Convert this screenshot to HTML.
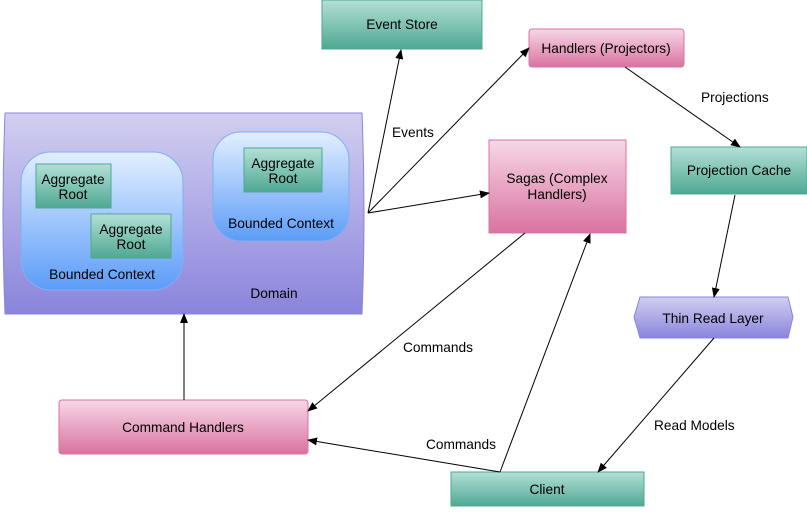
<!DOCTYPE html><html><head><style>body{margin:0;background:#fff}text{font-family:"Liberation Sans",sans-serif;font-size:13.7px;fill:#000}</style></head><body>
<svg width="807" height="507" xmlns="http://www.w3.org/2000/svg">
<defs>
<linearGradient id="g" x1="0" y1="0" x2="0" y2="1"><stop offset="0" stop-color="#b3e0d6"/><stop offset="1" stop-color="#4fa893"/></linearGradient>
<linearGradient id="p" x1="0" y1="0" x2="0" y2="1"><stop offset="0" stop-color="#f7d7e8"/><stop offset="1" stop-color="#d9739f"/></linearGradient>
<linearGradient id="v" x1="0" y1="0" x2="0" y2="1"><stop offset="0" stop-color="#d2cff0"/><stop offset="1" stop-color="#8a84dc"/></linearGradient>
<linearGradient id="b" x1="0" y1="0" x2="0" y2="1"><stop offset="0" stop-color="#e2efff"/><stop offset="1" stop-color="#5c9cf8"/></linearGradient>
<marker id="a" markerWidth="10" markerHeight="8" refX="9" refY="4" orient="auto" markerUnits="userSpaceOnUse"><path d="M0,0L10,4L0,8z" fill="#000"/></marker>
</defs>
<path d="M5,113H362Q366,213 362,314H5Q1,213 5,113z" fill="url(#v)" stroke="#8a84dc"/>
<rect x="21" y="152" width="162" height="138" rx="30" fill="url(#b)" stroke="#7fb0f0"/>
<rect x="213" y="132" width="136" height="109" rx="28" fill="url(#b)" stroke="#7fb0f0"/>
<rect x="36" y="164" width="75" height="44" fill="url(#g)" stroke="#4fa893"/>
<rect x="91" y="214" width="80" height="44" fill="url(#g)" stroke="#4fa893"/>
<rect x="244" y="148" width="78" height="44" fill="url(#g)" stroke="#4fa893"/>
<g text-anchor="middle">
<text x="73" y="184">Aggregate</text><text x="73" y="199">Root</text>
<text x="131" y="234">Aggregate</text><text x="131" y="249">Root</text>
<text x="283" y="168">Aggregate</text><text x="283" y="183">Root</text>
<text x="102" y="279">Bounded Context</text>
<text x="281" y="228">Bounded Context</text>
<text x="274" y="298">Domain</text>
</g>
<rect x="322" y="0" width="160" height="49" fill="url(#g)" stroke="#4fa893"/>
<rect x="529" y="29" width="155" height="38" rx="3" fill="url(#p)" stroke="#d9739f"/>
<rect x="489" y="140" width="137" height="93" fill="url(#p)" stroke="#d9739f"/>
<rect x="671" y="147" width="136" height="47" fill="url(#g)" stroke="#4fa893"/>
<path d="M640,297H788L793,317L788,338H640L634,317z" fill="url(#v)" stroke="#8a84dc"/>
<rect x="59" y="400" width="249" height="54" rx="3" fill="url(#p)" stroke="#d9739f"/>
<rect x="451" y="472" width="193" height="34" fill="url(#g)" stroke="#4fa893"/>
<g text-anchor="middle">
<text x="402" y="29">Event Store</text>
<text x="606" y="53">Handlers (Projectors)</text>
<text x="557" y="183">Sagas (Complex</text><text x="557" y="199">Handlers)</text>
<text x="739" y="175">Projection Cache</text>
<text x="713" y="323">Thin Read Layer</text>
<text x="183" y="432">Command Handlers</text>
<text x="547" y="494">Client</text>
</g>
<g stroke="#000" stroke-width="1" fill="none" marker-end="url(#a)">
<path d="M368,213L401,50"/>
<path d="M368,213L529,48"/>
<path d="M368,213L489,193"/>
<path d="M625,67L740,147"/>
<path d="M735,195L714,297"/>
<path d="M714,338L598,472"/>
<path d="M500,472L590,234"/>
<path d="M500,472L308,440"/>
<path d="M525,233L308,411"/>
<path d="M184,400L184,314"/>
</g>
<text x="392" y="137">Events</text>
<text x="701" y="102">Projections</text>
<text x="403" y="352">Commands</text>
<text x="426" y="449">Commands</text>
<text x="654" y="430">Read Models</text>
</svg></body></html>
